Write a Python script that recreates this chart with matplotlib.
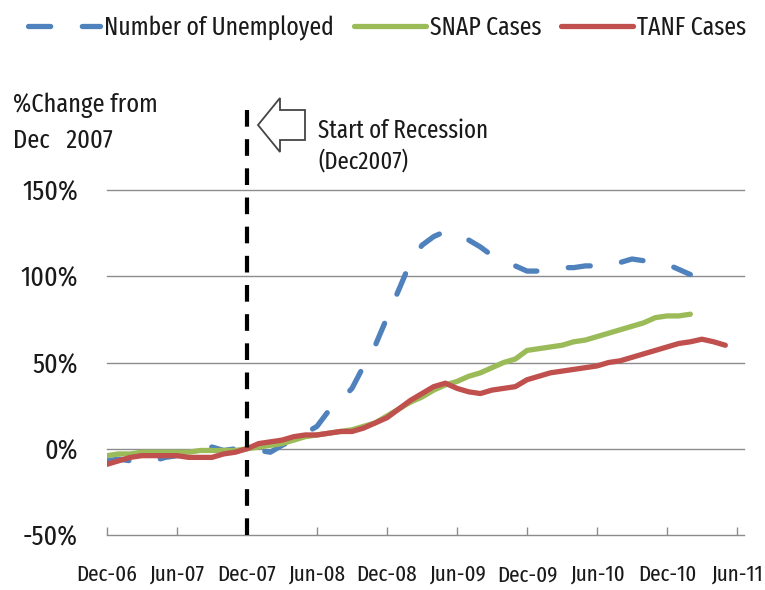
import matplotlib
matplotlib.use("Agg")
import matplotlib.pyplot as plt
from matplotlib import font_manager
from matplotlib.patches import Polygon

names = {f.name for f in font_manager.fontManager.ttflist}
FONT = next((n for n in ["Fira Sans Extra Condensed", "Fira Sans Condensed",
                         "PT Sans Narrow", "Liberation Sans"] if n in names), "DejaVu Sans")
plt.rcParams["font.family"] = [FONT, "DejaVu Sans"]

# months since Dec-06 (0 = Dec-06)
tick_labels = ["Dec-06", "Jun-07", "Dec-07", "Jun-08", "Dec-08", "Jun-09",
               "Dec-09", "Jun-10", "Dec-10", "Jun-11"]
y_ticks = [-50, 0, 50, 100, 150]
y_tick_labels = ["-50%", "0%", "50%", "100%", "150%"]

unemployed = [-7, -6, -7, -7, -7, -5, -4, -3, 1, 1, -1, 0, 0, -1, -2, 2, 5, 9, 13,
              22, 28, 35, 48, 60, 76, 92, 108, 118, 123, 126, 124, 121, 117, 112,
              109, 106, 103, 103, 104, 105, 105, 106, 106, 106, 108, 110, 109, 108,
              107, 104, 101]
snap = [-4, -3, -3, -2, -2, -2, -2, -2, -1, -1, -1, -1, 0, 1, 2, 3, 5, 7, 8, 9, 10,
        11, 13, 15, 19, 23, 27, 30, 34, 37, 39, 42, 44, 47, 50, 52, 57, 58, 59, 60,
        62, 63, 65, 67, 69, 71, 73, 76, 77, 77, 78]
tanf = [-9, -7, -5, -4, -4, -4, -4, -5, -5, -5, -3, -2, 0, 3, 4, 5, 7, 8, 8, 9, 10,
        10, 12, 15, 18, 23, 28, 32, 36, 38, 35, 33, 32, 34, 35, 36, 40, 42, 44, 45,
        46, 47, 48, 50, 51, 53, 55, 57, 59, 61, 62, 63.5, 62, 60]
recession_month = 12

W, H = 765, 590
def fx(px): return px / W
def fy(py): return 1 - py / H

fig = plt.figure(figsize=(7.65, 5.9), dpi=100)
renderer = fig.canvas.get_renderer()

def fit_size(s, target_px, base=20.0):
    t = fig.text(0, 0, s, fontsize=base)
    w = t.get_window_extent(renderer).width
    t.remove()
    return base * target_px / w

tick_fs = fit_size("Dec-06", 61)
ytick_fs = fit_size("150%", 56)
legend_fs = fit_size("Number of Unemployed", 230)
title_fs = fit_size("%Change from", 145)
ann_fs = fit_size("Start of Recession", 170)
sub_fs = fit_size("(Dec2007)", 90)

ax = fig.add_axes([fx(107), fy(535), fx(744) - fx(107), fy(190) - fy(535)])

BLUE, GREEN, RED = "#4F81BD", "#9BBB59", "#C0504D"
TXT = "#1a1a1a"
lw = 3.8
ax.plot(range(len(unemployed)), unemployed, color=BLUE, lw=lw,
        dashes=(4.2, 6.0), dash_capstyle="round", solid_capstyle="round",
        label="Number of Unemployed", zorder=3)
ax.plot(range(len(snap)), snap, color=GREEN, lw=lw, solid_capstyle="round",
        label="SNAP Cases", zorder=4)
ax.plot(range(len(tanf)), tanf, color=RED, lw=lw, solid_capstyle="round",
        label="TANF Cases", zorder=5)

ax.plot([recession_month, recession_month], [-50, 199], color="black", lw=3,
        dashes=(4, 3), clip_on=False, zorder=6)

ax.set_xlim(0, 54.6)
ax.set_ylim(-50, 150)
ax.set_yticks(y_ticks)
ax.set_yticklabels(y_tick_labels)
ax.set_xticks(range(0, 55, 6))
ax.set_xticklabels(tick_labels)
for v in y_ticks[1:]:
    ax.axhline(v, color="#8c8c8c", lw=1, zorder=1, clip_on=False)
for s in ["left", "right", "top"]:
    ax.spines[s].set_visible(False)
ax.spines["bottom"].set_color("#8c8c8c")
ax.spines["bottom"].set_linewidth(1)
ax.tick_params(axis="y", length=0, pad=21, labelsize=ytick_fs, labelcolor=TXT)
ax.tick_params(axis="x", direction="in", length=6, color="#8c8c8c", width=1,
               pad=21, labelsize=tick_fs, labelcolor=TXT)

# legend
em_px = legend_fs * 100 / 72
fig.legend(loc="center", bbox_to_anchor=(fx(387), fy(28)), ncol=3, frameon=False,
           fontsize=legend_fs, handlelength=72 / em_px, columnspacing=20 / em_px,
           handletextpad=4 / em_px, borderpad=0, labelcolor=TXT)

# axis title
fig.text(fx(13), fy(112), "%Change from", fontsize=title_fs, va="baseline",
         ha="left", color=TXT)
fig.text(fx(13), fy(148), "Dec   2007", fontsize=title_fs, va="baseline",
         ha="left", color=TXT)

# annotation
fig.text(fx(318), fy(138), "Start of Recession", fontsize=ann_fs, va="baseline",
         ha="left", color=TXT)
fig.text(fx(318), fy(169), "(Dec2007)", fontsize=sub_fs, va="baseline",
         ha="left", color=TXT)
arrow_px = [(258, 125), (280, 98), (280, 110), (305, 110), (305, 140),
            (280, 140), (280, 152)]
poly = Polygon([(fx(x), fy(y)) for x, y in arrow_px], closed=True,
               transform=fig.transFigure, facecolor="white", edgecolor="#444444",
               lw=1.3)
fig.patches.append(poly)

fig.savefig("out.png", dpi=100)
